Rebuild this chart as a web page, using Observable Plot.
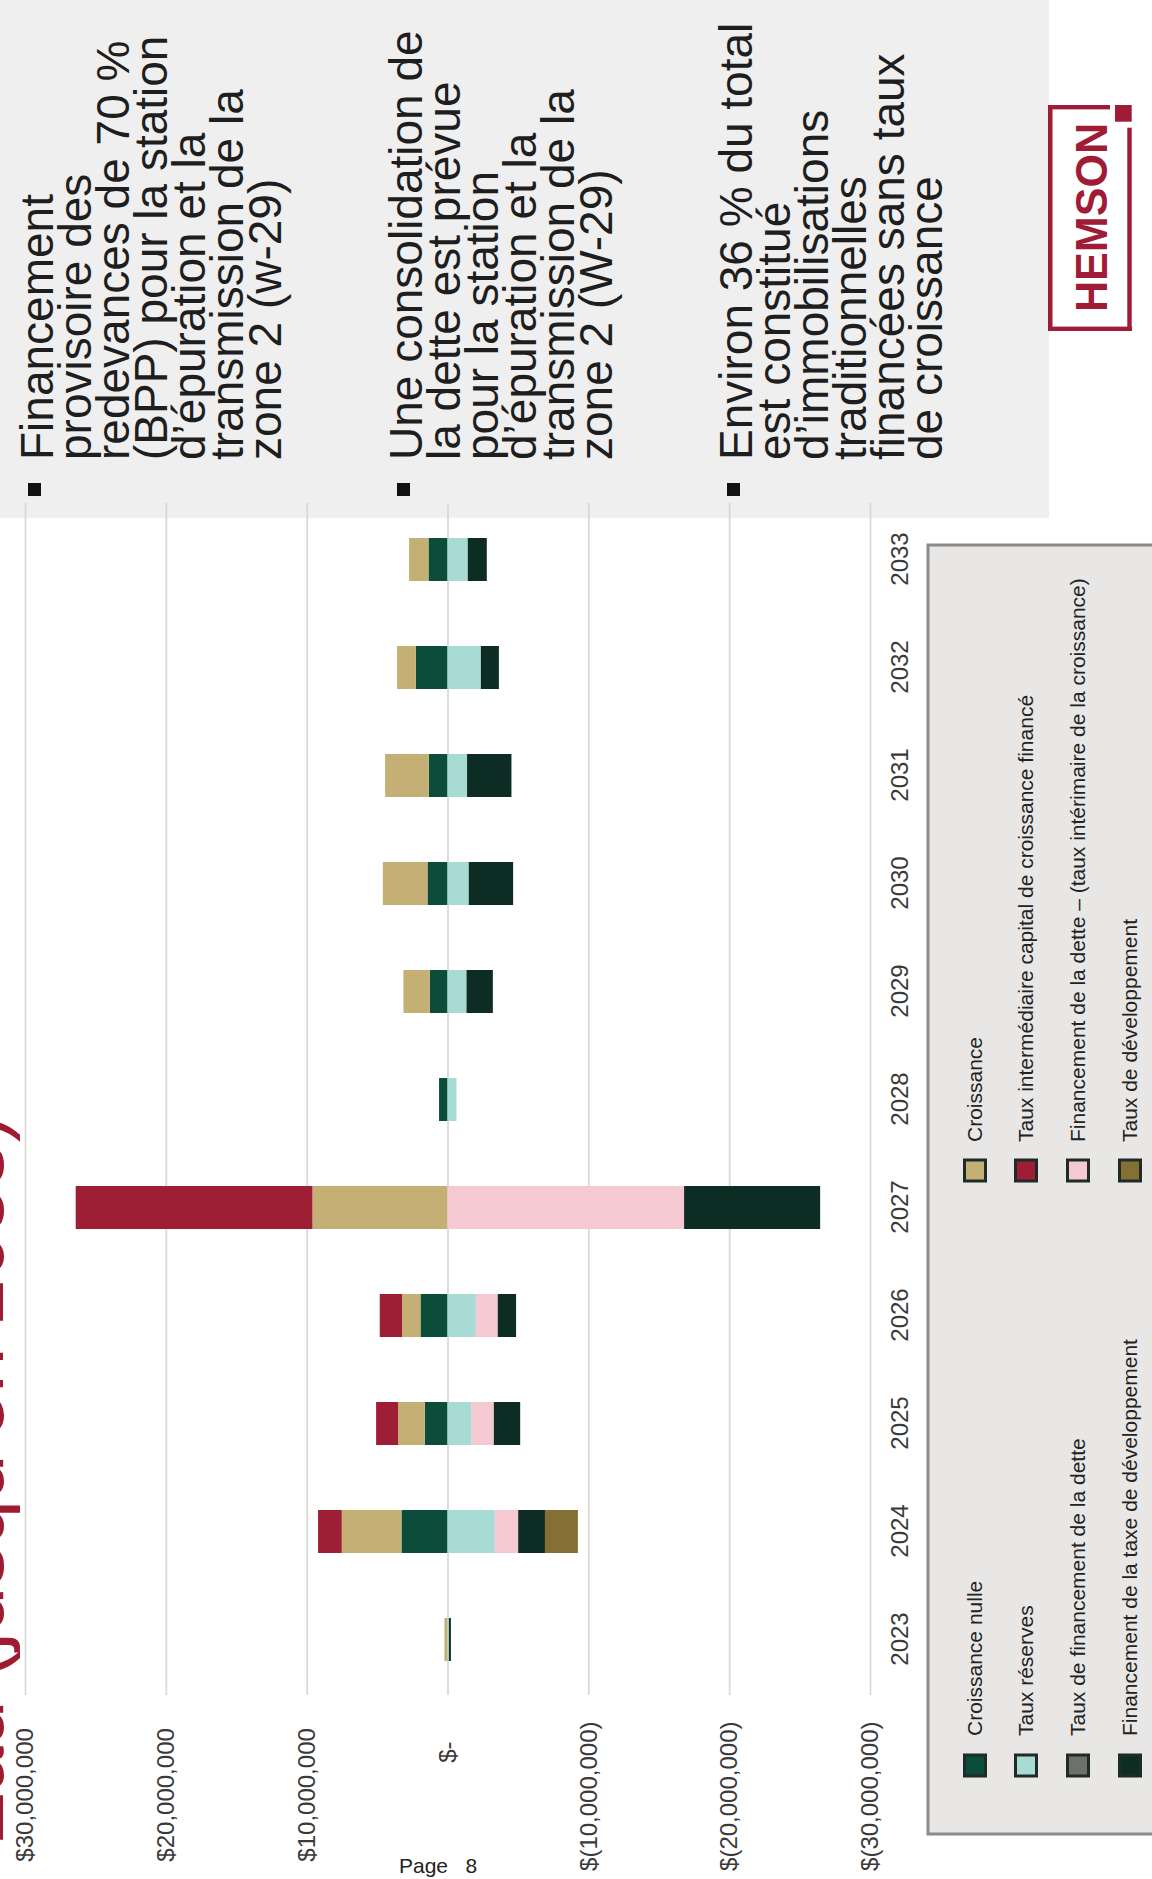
<!DOCTYPE html>
<html><head><meta charset="utf-8">
<script src="https://cdn.jsdelivr.net/npm/d3@7"></script>
<script src="https://cdn.jsdelivr.net/npm/@observablehq/plot@0.6"></script>
<style>
html,body{margin:0;padding:0;background:#fff;overflow:hidden;width:1152px;height:1879px;}
#page{position:absolute;left:0;top:0;width:1879px;height:1152px;transform-origin:0 0;transform:translate(0px,1879px) rotate(-90deg);font-family:"Liberation Sans",Arial,sans-serif;}
#decor{position:absolute;left:0;top:0;}
#chart{position:absolute;left:0;top:0;}
#pageno{position:absolute;left:399px;top:1855px;font:21px/21px "Liberation Sans",Arial,sans-serif;color:#222;white-space:pre;}
</style></head><body>
<div id="page"><svg id="decor" width="1879" height="1152"></svg><div id="chart"></div></div>
<div id="pageno">Page   8</div>
<script>
// ---- DATA (millions $) ----
const years = ["2023","2024","2025","2026","2027","2028","2029","2030","2031","2032","2033"];
const croissanceNulle          = [0,     3.27,  1.61,  1.92,  0,      0.60,  1.26,  1.42,  1.33,  2.25,  1.35];
const croissance               = [0.22,  4.24,  1.90,  1.31,  9.59,   0,     1.87,  3.17,  3.10,  1.33,  1.38];
const tauxIntermediaire        = [0,     1.68,  1.56,  1.58,  16.81,  0,     0,     0,     0,     0,     0];
const tauxReserves             = [-0.10, -3.36, -1.68, -2.01, 0,      -0.64, -1.35, -1.51, -1.39, -2.37, -1.44];
const tauxFinancementDette     = [0,     0,     0,     0,     0,      0,     0,     0,     0,     0,     0];
const financementDetteInterim  = [0,     -1.66, -1.61, -1.56, -16.80, 0,     0,     0,     0,     0,     0];
const financementTaxeDev       = [-0.14, -1.90, -1.87, -1.30, -9.66,  0,     -1.87, -3.15, -3.15, -1.28, -1.35];
const tauxDeveloppement        = [0,     -2.34, 0,     0,     0,      0,     0,     0,     0,     0,     0];

const seriesNames = [
  "Croissance nulle",
  "Croissance",
  "Taux intermédiaire capital de croissance financé",
  "Taux réserves",
  "Taux de financement de la dette",
  "Financement de la dette – (taux intérimaire de la croissance)",
  "Financement de la taxe de développement",
  "Taux de développement"
];
const seriesValues = [croissanceNulle, croissance, tauxIntermediaire, tauxReserves,
  tauxFinancementDette, financementDetteInterim, financementTaxeDev, tauxDeveloppement];
const seriesColors = ["#0b4c3b", "#c4af74", "#9e1f35", "#a8dbd3", "#6f6f6b", "#f4c9d1", "#0c2c24", "#847034"];

const yTicks = [-30e6, -20e6, -10e6, 0, 10e6, 20e6, 30e6];

const legendCol1 = ["Croissance nulle", "Taux réserves", "Taux de financement de la dette", "Financement de la taxe de développement"];
const legendCol2 = ["Croissance", "Taux intermédiaire capital de croissance financé", "Financement de la dette – (taux intérimaire de la croissance)", "Taux de développement"];

const titleText = "Prévisions de financement – Eau (jusqu'en 2033)";
const bullets = [
  ["Financement", "provisoire des", "redevances de 70 %", "(BPP) pour la station", "d’épuration et la", "transmission de la", "zone 2 (w-29)"],
  ["Une consolidation de", "la dette est prévue", "pour la station", "d’épuration et la", "transmission de la", "zone 2 (W-29)"],
  ["Environ 36 % du total", "est constitué", "d’immobilisations", "traditionnelles", "financées sans taux", "de croissance"]
];

// ---- table for Plot ----
const rows = [];
seriesNames.forEach((s, i) => years.forEach((y, j) => rows.push({year: y, series: s, value: seriesValues[i][j] * 1e6})));

const fmt = d3.format(",");
const money = v => v === 0 ? "$-\u2008\u2008\u2008" : v > 0 ? "$" + fmt(v) + "\u2008" : "$(" + fmt(-v) + ")";

const plot = Plot.plot({
  width: 1400, height: 930,
  marginLeft: 184, marginRight: 24, marginTop: 25, marginBottom: 60,
  style: {background: "transparent", fontFamily: "'Liberation Sans', Arial, sans-serif", fontSize: "24px", color: "#3a3a3a", overflow: "visible"},
  x: {type: "band", domain: years, paddingInner: 0.6, paddingOuter: 0.3, label: null},
  y: {domain: [-30e6, 30e6], label: null},
  color: {domain: seriesNames, range: seriesColors},
  marks: [
    Plot.gridY(yTicks, {stroke: "#d9d9d4", strokeOpacity: 1, strokeWidth: 1.75}),
    Plot.barY(rows, Plot.stackY({x: "year", y: "value", fill: "series", order: seriesNames})),
    Plot.axisY(yTicks, {tickSize: 0, tickPadding: 27, tickFormat: money, fontSize: 24, label: null}),
    Plot.axisX({tickSize: 0, tickPadding: 20, fontSize: 24, label: null})
  ]
});
document.getElementById("chart").appendChild(plot);

// ---- decorations (landscape coordinates) ----
const svg = d3.select("#decor");
const FONT = "'Liberation Sans', Arial, sans-serif";

// grey text panel
svg.append("rect").attr("x", 1361).attr("y", 0).attr("width", 518).attr("height", 1049).attr("fill", "#efefef");

// title (mostly off page)
svg.append("text").attr("x", 764).attr("y", 3).attr("text-anchor", "end")
  .attr("font-family", FONT).attr("font-size", 82).attr("fill", "#9e1b32").text(titleText);

// bullets
const firstBaselines = [53, 422, 752];
bullets.forEach((lines, b) => {
  const b0 = firstBaselines[b];
  svg.append("rect").attr("x", 1383).attr("y", b0 - 25).attr("width", 13).attr("height", 13).attr("fill", "#111");
  const t = svg.append("text").attr("font-family", FONT).attr("font-size", 46).attr("fill", "#1e1e1e");
  lines.forEach((l, i) => t.append("tspan").attr("x", 1419).attr("y", b0 + i * 38).text(l));
});

// legend box
svg.append("rect").attr("x", 45).attr("y", 928).attr("width", 1289).attr("height", 260)
  .attr("fill", "#e8e7e5").attr("stroke", "#8a8a8a").attr("stroke-width", 3);
const rowBase = [982, 1033, 1085, 1137];
const legendCols = [{items: legendCol1, sx: 101.5, tx: 143}, {items: legendCol2, sx: 696.5, tx: 737}];
legendCols.forEach(col => {
  col.items.forEach((name, i) => {
    const c = seriesColors[seriesNames.indexOf(name)];
    svg.append("rect").attr("x", col.sx + 1.5).attr("y", rowBase[i] - 7 - 10.5).attr("width", 21).attr("height", 21)
      .attr("fill", c).attr("stroke", "#1e2b26").attr("stroke-width", 3);
    svg.append("text").attr("x", col.tx).attr("y", rowBase[i]).attr("font-family", FONT)
      .attr("font-size", 21).attr("fill", "#222").text(name);
  });
});

// HEMSON logo
const red = "#a01c36";
const logo = svg.append("g").attr("fill", red);
logo.append("rect").attr("x", 1548).attr("y", 1048).attr("width", 226).attr("height", 4.5);
logo.append("rect").attr("x", 1548).attr("y", 1048).attr("width", 4.4).attr("height", 84);
logo.append("rect").attr("x", 1548).attr("y", 1127.3).attr("width", 203.3).attr("height", 4.4);
logo.append("rect").attr("x", 1769.6).attr("y", 1048).attr("width", 4.4).attr("height", 62);
logo.append("rect").attr("x", 1757.3).attr("y", 1115).attr("width", 16.7).attr("height", 16.7);
logo.append("text").attr("x", 1567).attr("y", 1106.7).attr("font-family", FONT).attr("font-weight", "bold")
  .attr("font-size", 45).attr("textLength", 189).attr("lengthAdjust", "spacingAndGlyphs").text("HEMSON");
</script></body></html>
